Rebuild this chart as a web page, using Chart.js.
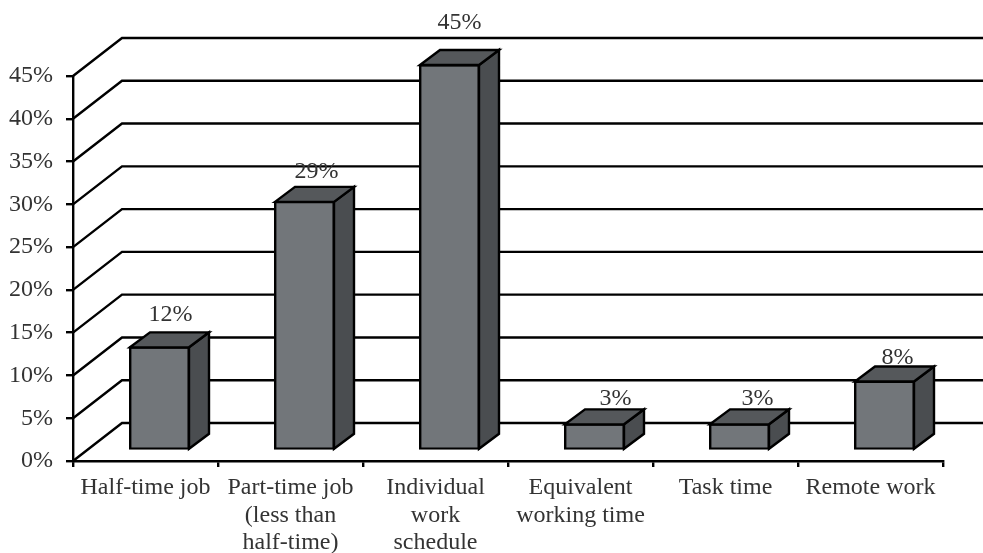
<!DOCTYPE html>
<html>
<head>
<meta charset="utf-8">
<title>Working time arrangements</title>
<style>
  html, body { margin: 0; padding: 0; background: #fff; }
  canvas { display: block; }
</style>
<script src="https://cdn.jsdelivr.net/npm/chart.js@4/dist/chart.umd.js"></script>
</head>
<body>
<canvas id="chart" width="983" height="553"></canvas>
<script>
'use strict';

const categories = [
  'Half-time job',
  ['Part-time job', '(less than', 'half-time)'],
  ['Individual', 'work', 'schedule'],
  ['Equivalent', 'working time'],
  'Task time',
  'Remote work',
];
const shares = [12, 29, 45, 3, 3, 8];

// Hand-placed value labels in the original sit at varying spots around each bar
const labelLift = [33, 30, 42, 26, 26, 24];
const labelNudge = [0, 1, -1, 10, 7, 2];

const FONT = '"Liberation Serif", "Times New Roman", serif';
const TEXT = '#333333';
const LINE = '#000000';
const STROKE = 2.4;
const WALL = { dx: 49, dy: -38 };   // floor depth, front axis to back wall
const BAR = { dx: 14, dy: -11, depthX: 20, depthY: -15 };

/** Diagonal + horizontal gridlines of the pseudo-3D wall. */
const wallGrid = {
  id: 'wallGrid',
  beforeDatasetsDraw(chart) {
    const { ctx, scales: { x, y }, width } = chart;
    ctx.save();
    ctx.strokeStyle = LINE;
    ctx.lineWidth = STROKE;
    y.ticks.forEach((tick) => {
      const py = y.getPixelForValue(tick.value);
      ctx.beginPath();
      ctx.moveTo(x.left, py);
      ctx.lineTo(x.left + WALL.dx, py + WALL.dy);
      ctx.lineTo(width, py + WALL.dy);
      ctx.stroke();
    });
    ctx.restore();
  },
};

/** Shifts the bars onto the floor and adds their side and top faces. */
const bars3d = {
  id: 'bars3d',
  beforeDatasetDraw(chart) {
    chart.ctx.save();
    chart.ctx.translate(BAR.dx, BAR.dy);
  },
  afterDatasetDraw(chart, args) {
    const { ctx } = chart;
    ctx.lineWidth = STROKE;
    ctx.lineJoin = 'miter';
    ctx.strokeStyle = LINE;
    args.meta.data.forEach((bar) => {
      const left = bar.x - bar.width / 2;
      const right = bar.x + bar.width / 2;
      const top = bar.y;
      const base = bar.base;

      ctx.fillStyle = '#4a4d50';
      ctx.beginPath();
      ctx.moveTo(right, top);
      ctx.lineTo(right + BAR.depthX, top + BAR.depthY);
      ctx.lineTo(right + BAR.depthX, base + BAR.depthY);
      ctx.lineTo(right, base);
      ctx.closePath();
      ctx.fill();
      ctx.stroke();

      ctx.fillStyle = '#55585b';
      ctx.beginPath();
      ctx.moveTo(left, top);
      ctx.lineTo(left + BAR.depthX, top + BAR.depthY);
      ctx.lineTo(right + BAR.depthX, top + BAR.depthY);
      ctx.lineTo(right, top);
      ctx.closePath();
      ctx.fill();
      ctx.stroke();
    });
    ctx.restore();
  },
};

/** Percent labels above the bars. */
const valueLabels = {
  id: 'valueLabels',
  afterDatasetsDraw(chart) {
    const { ctx } = chart;
    ctx.save();
    ctx.font = '24px ' + FONT;
    ctx.fillStyle = TEXT;
    ctx.textAlign = 'center';
    ctx.textBaseline = 'middle';
    chart.getDatasetMeta(0).data.forEach((bar, i) => {
      const px = bar.x + BAR.dx + BAR.depthX / 2 + 1 + labelNudge[i];
      const py = bar.y + BAR.dy - labelLift[i];
      ctx.fillText(shares[i] + '%', px, py);
    });
    ctx.restore();
  },
};

new Chart(document.getElementById('chart'), {
  type: 'bar',
  data: {
    labels: categories,
    datasets: [{
      data: shares,
      backgroundColor: '#72767a',
      borderColor: LINE,
      borderWidth: STROKE,
      borderSkipped: false,
      inflateAmount: 1,
      barPercentage: 59 / 145,
      categoryPercentage: 1,
      clip: false,
    }],
  },
  options: {
    responsive: false,
    animation: false,
    layout: { padding: { top: 76, right: 40, left: 0, bottom: 0 } },
    plugins: { legend: { display: false }, tooltip: { enabled: false } },
    scales: {
      x: {
        afterFit(scale) { scale.height = 92; },
        border: { color: LINE, width: STROKE },
        grid: { drawOnChartArea: false, color: LINE, lineWidth: STROKE, tickLength: 6 },
        ticks: {
          color: TEXT,
          font: { family: FONT, size: 24, lineHeight: 1.15 },
          padding: 7,
          maxRotation: 0,
          autoSkip: false,
        },
      },
      y: {
        min: 0,
        max: 45,
        afterFit(scale) { scale.width = 73; },
        border: { color: LINE, width: STROKE },
        grid: { drawOnChartArea: false, color: LINE, lineWidth: STROKE, tickLength: 7 },
        ticks: {
          stepSize: 5,
          color: TEXT,
          font: { family: FONT, size: 24 },
          padding: 13,
          callback: (v) => v + '%',
        },
      },
    },
  },
  plugins: [wallGrid, bars3d, valueLabels],
});
</script>
</body>
</html>
